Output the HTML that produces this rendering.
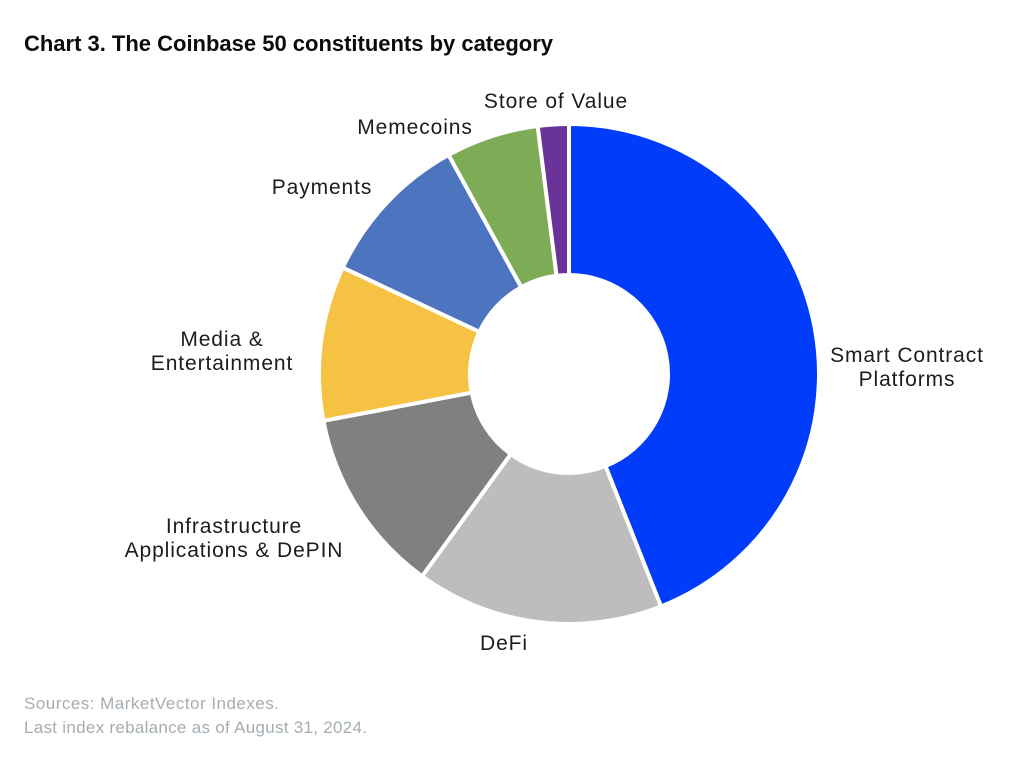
<!DOCTYPE html>
<html lang="en">
<head>
<meta charset="utf-8">
<title>Chart 3. The Coinbase 50 constituents by category</title>
<style>
html,body{margin:0;padding:0;background:#fff;}
svg{display:block;font-family:"Liberation Sans",sans-serif;}
</style>
</head>
<body>
<svg id="chart" width="1024" height="763" viewBox="0 0 1024 763" xmlns="http://www.w3.org/2000/svg">
  <text x="24" y="51" font-size="22" font-weight="700" fill="#0a0b0d" textLength="529" lengthAdjust="spacing">Chart 3. The Coinbase 50 constituents by category</text>
  <g id="slices"></g>
  <g id="labels"></g>
  <text x="24" y="709" font-size="17" fill="#a3adb3" textLength="255" lengthAdjust="spacing">Sources: MarketVector Indexes.</text>
  <text x="24" y="733" font-size="17" fill="#a3adb3" textLength="343" lengthAdjust="spacing">Last index rebalance as of August 31, 2024.</text>
</svg>
<script>
const categories = ['Smart Contract Platforms', 'DeFi', 'Infrastructure Applications & DePIN', 'Media & Entertainment', 'Payments', 'Memecoins', 'Store of Value'];
const values = [44, 16, 12, 10, 10, 6, 2];
const colors = ['#003cfa', '#bdbdbd', '#808080', '#f5c244', '#4d74bf', '#7eab55', '#6a3399'];
const labelLines = [['Smart Contract', 'Platforms'], ['DeFi'], ['Infrastructure', 'Applications & DePIN'], ['Media &', 'Entertainment'], ['Payments'], ['Memecoins'], ['Store of Value']];

const NS = 'http://www.w3.org/2000/svg';
const cx = 569, cy = 374, rOuter = 250, rInner = 99;
const labelAnchors = [[907, 355], [504, 643], [234, 526], [222, 339], [322, 187], [415, 127], [556, 101]];
const total = values.reduce(function (a, b) { return a + b; }, 0);
function angleOf(v) { return v / total * Math.PI * 2; }
function pt(r, a) { return [cx + r * Math.sin(a), cy - r * Math.cos(a)]; }

const sliceGroup = document.getElementById('slices');
let start = 0;
values.forEach(function (v, i) {
  const end = start + angleOf(v);
  const large = end - start > Math.PI ? 1 : 0;
  const p1 = pt(rOuter, start), p2 = pt(rOuter, end), p3 = pt(rInner, end), p4 = pt(rInner, start);
  const path = document.createElementNS(NS, 'path');
  path.setAttribute('d', 'M' + p1 + 'A' + rOuter + ' ' + rOuter + ' 0 ' + large + ' 1 ' + p2 + 'L' + p3 + 'A' + rInner + ' ' + rInner + ' 0 ' + large + ' 0 ' + p4 + 'Z');
  path.setAttribute('fill', colors[i]);
  path.setAttribute('stroke', '#fff');
  path.setAttribute('stroke-width', '4');
  
  
  const tip = document.createElementNS(NS, 'title');
  tip.textContent = categories[i];
  path.appendChild(tip);
  sliceGroup.appendChild(path);
  start = end;
});

const labelGroup = document.getElementById('labels');
labelLines.forEach(function (lines, i) {
  lines.forEach(function (line, j) {
    const t = document.createElementNS(NS, 'text');
    t.setAttribute('x', labelAnchors[i][0]);
    t.setAttribute('y', labelAnchors[i][1] + j * 24 + 7);
    t.setAttribute('text-anchor', 'middle');
    t.setAttribute('font-size', '21');
    t.setAttribute('letter-spacing', '0.9');
    t.setAttribute('fill', '#1c1c1c');
    
    
    t.textContent = line;
    labelGroup.appendChild(t);
  });
});
</script>
</body>
</html>
